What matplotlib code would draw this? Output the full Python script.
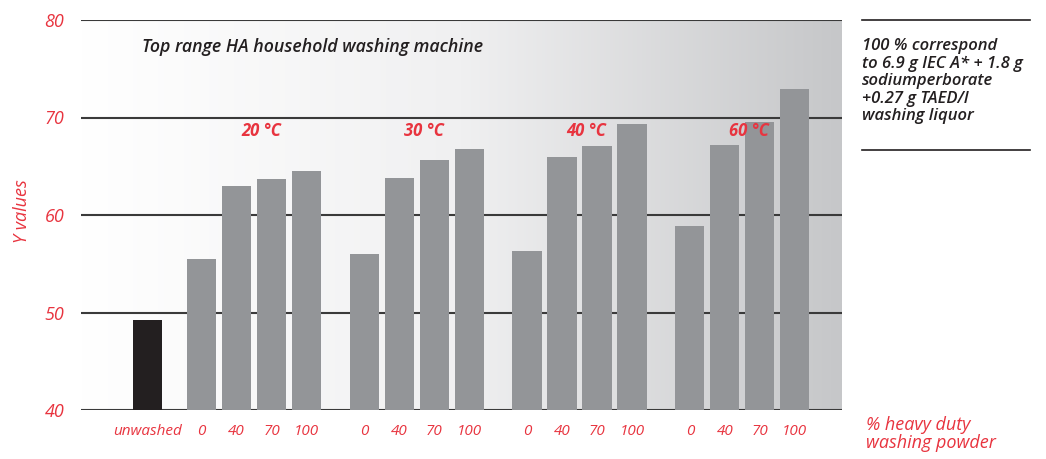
import numpy as np
import matplotlib.pyplot as plt
from matplotlib.colors import LinearSegmentedColormap

# ── DATA ─────────────────────────────────────────────────────
temperatures  = ["20 °C", "30 °C", "40 °C", "60 °C"]
powder_levels = ["0", "40", "70", "100"]
unwashed_val  = 49.2
values_20 = [55.5, 63.0, 63.7, 64.5]
values_30 = [56.0, 63.8, 65.6, 66.8]
values_40 = [56.3, 65.9, 67.1, 69.3]
values_60 = [58.9, 67.2, 69.5, 72.9]
group_values = [values_20, values_30, values_40, values_60]
y_ticks = [40, 50, 60, 70, 80]

RED   = "#e8343f"
DARK  = "#231f20"
BAR   = "#939598"
FONT  = "Open Sans"

plt.rcParams["font.family"] = FONT

fig = plt.figure(figsize=(10.46, 4.59), dpi=100)
ax = fig.add_axes([81/1046, 1 - 410/459, (842-81)/1046, (410-20)/459])

# layout: bar spacing 1, group gap extra
group_step = 4.65
first_off  = 1.55
positions = [[first_off + g*group_step + i for i in range(4)] for g in range(4)]
xmin, xmax = -1.9, 19.85

# gradient background
grad = np.linspace(0, 1, 256).reshape(1, -1)
cmap = LinearSegmentedColormap.from_list("bg", ["#ffffff", "#f0f0f1", "#c6c7c9"])
ax.imshow(grad, extent=[xmin, xmax, 40, 80], aspect="auto", cmap=cmap, zorder=0)

for y in y_ticks:
    ax.axhline(y, color="#3a3a3a", lw=1.5, zorder=1)

ax.bar(0, unwashed_val - 40, bottom=40, width=0.84, color=DARK, zorder=2)
for g, vals in enumerate(group_values):
    ax.bar(positions[g], [v - 40 for v in vals], bottom=40, width=0.84,
           color=BAR, zorder=2)
    ax.text((positions[g][1] + positions[g][2]) / 2 + 0.2, 68.6, temperatures[g],
            color=RED, fontsize=12, fontweight="bold", fontstyle="italic",
            ha="center", va="center", zorder=3)

ax.set_xlim(xmin, xmax)
ax.set_ylim(40, 80)
for s in ax.spines.values():
    s.set_visible(False)
ax.set_yticks(y_ticks)
ax.set_yticklabels([str(t) for t in y_ticks], color=RED, fontsize=13,
                   fontstyle="italic")
ax.tick_params(axis="y", length=0, pad=12)

xt = [0] + [p for grp in positions for p in grp]
xl = ["unwashed"] + powder_levels * 4
ax.set_xticks(xt)
ax.set_xticklabels(xl, color=RED, fontsize=11, fontstyle="italic")
ax.tick_params(axis="x", length=0, pad=10)

ax.set_ylabel("Y values", color=RED, fontsize=13, fontstyle="italic")
ax.yaxis.set_label_coords(-0.066, 0.51)

ax.text(0.08, 0.93, "Top range HA household washing machine", transform=ax.transAxes,
        color=DARK, fontsize=12.8, fontweight="semibold", fontstyle="italic",
        ha="left", va="center")

# right note
fig.add_artist(plt.Line2D([862/1046, 1030/1046], [1 - 20/459, 1 - 20/459],
                          color=DARK, lw=1.2))
fig.add_artist(plt.Line2D([862/1046, 1030/1046], [1 - 150/459, 1 - 150/459],
                          color=DARK, lw=1.2))
fig.text(862/1046, 1 - 38/459,
         "100 % correspond\nto 6.9 g IEC A* + 1.8 g\nsodiumperborate\n+0.27 g TAED/l\nwashing liquor",
         color=DARK, fontsize=12, fontweight="semibold", fontstyle="italic",
         ha="left", va="top", linespacing=1.12)

fig.text(866/1046, 1 - 416/459, "% heavy duty\nwashing powder", color=RED,
         fontsize=13, fontstyle="italic", ha="left", va="top", linespacing=1.0)

plt.savefig("out.png", dpi=100)
